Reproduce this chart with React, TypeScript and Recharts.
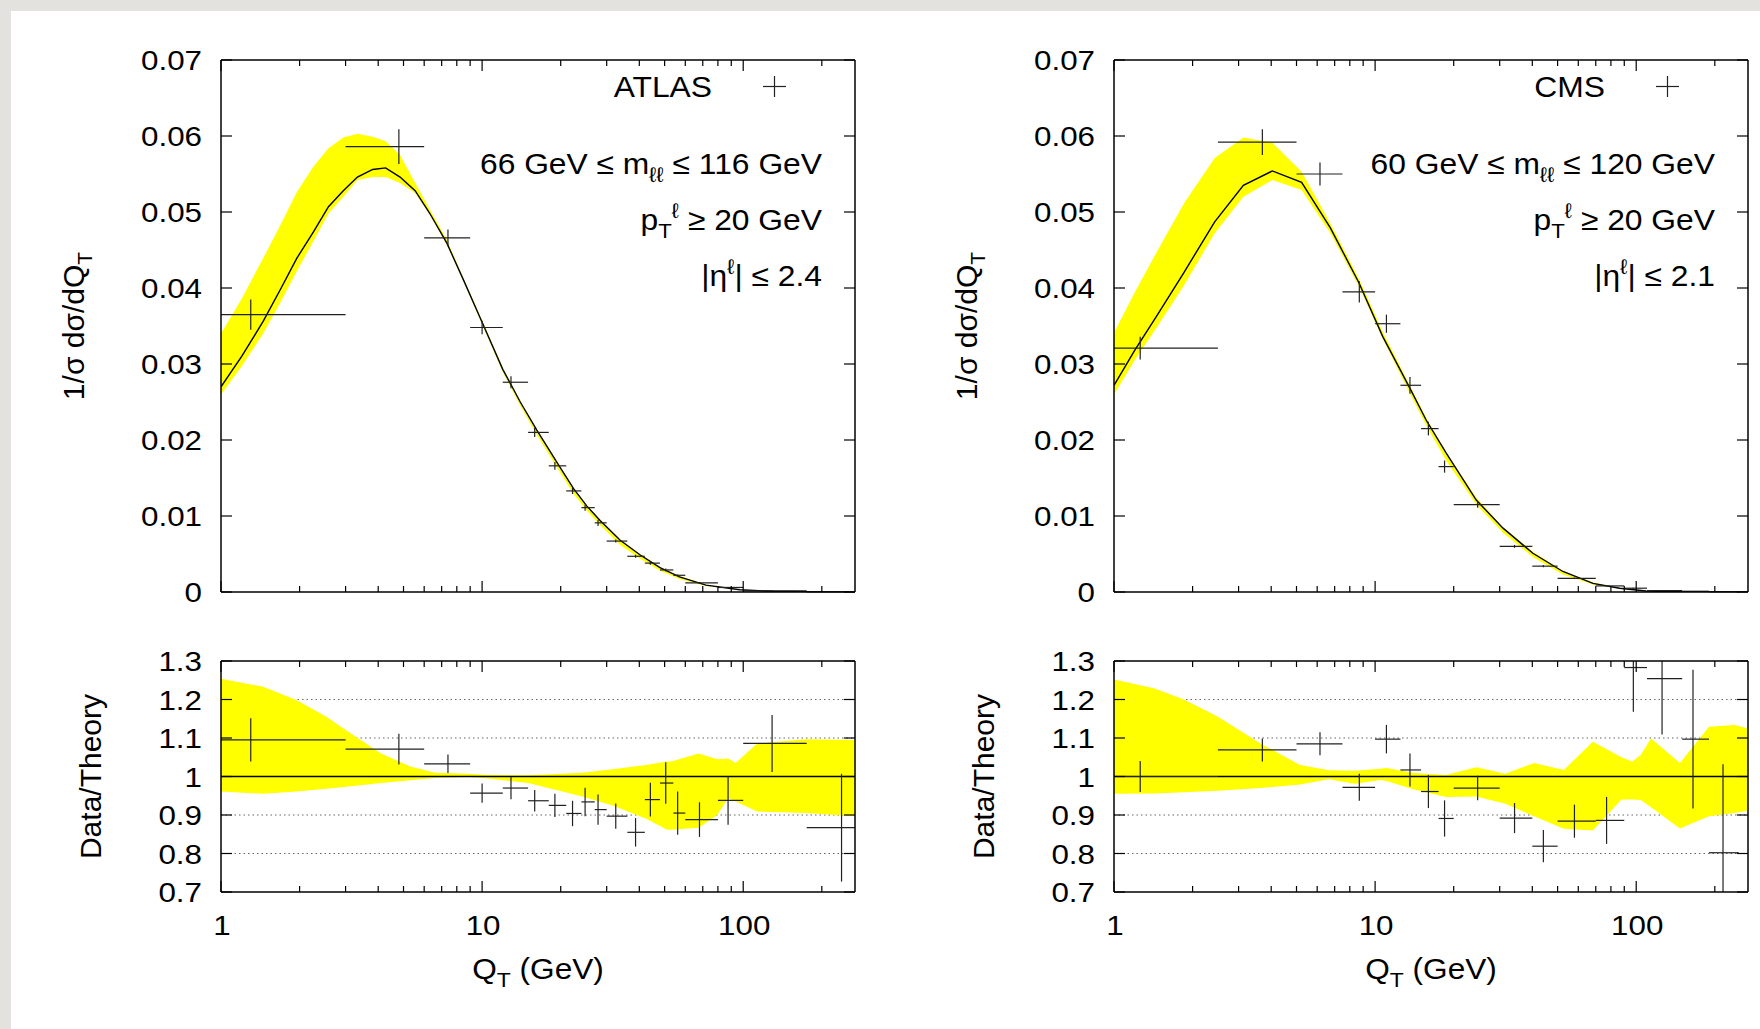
import { ComposedChart, XAxis, YAxis, Line, Area, Scatter, ErrorBar, CartesianGrid, ReferenceLine } from 'recharts'

const FONT = '"Liberation Sans", Arial, Helvetica, sans-serif'
const YELLOW = '#ffff00'
const INK = '#000'
const CROSS = '#222'

// axes
const X_MIN = 1
const X_MAX = 268
const X_TICKS = [1, 2, 3, 4, 5, 6, 7, 8, 9, 10, 20, 30, 40, 50, 60, 70, 80, 90, 100, 200]
const X_MAJOR = [1, 10, 100]
const DIST_DOMAIN = [0, 0.07]
const DIST_TICKS = [0, 0.01, 0.02, 0.03, 0.04, 0.05, 0.06, 0.07]
const RATIO_DOMAIN = [0.7, 1.3]
const RATIO_TICKS = [0.7, 0.8, 0.9, 1, 1.1, 1.2, 1.3]
const RATIO_GRID = [0.8, 0.9, 1.1, 1.2]

// ---- ATLAS data (bins, 1/σ dσ/dQT, Data/Theory) ----
const ATLAS_Q = [1.3, 4.8, 7.4, 10, 12.9, 15.9, 19, 22.2, 24.8, 27.8, 32.5, 38.7, 44.1, 50.5, 56.1, 68, 87.5, 129, 238]
const ATLAS_BIN_LO = [0, 3, 6, 9, 12, 15, 18, 21, 24, 27, 30, 36, 42, 48, 54, 60, 80, 100, 175]
const ATLAS_BIN_HI = [3, 6, 9, 12, 15, 18, 21, 24, 27, 30, 36, 42, 48, 54, 60, 80, 100, 175, 350]
const ATLAS_V = [0.0365, 0.0586, 0.0466, 0.0348, 0.0276, 0.021, 0.0166, 0.0133, 0.0111, 0.0091, 0.0067, 0.0047, 0.0038, 0.0029, 0.0022, 0.0012, 0.0006, 0.00015, 0.00002]
const ATLAS_VERR = [0.002, 0.0023, 0.0011, 0.0009, 0.0008, 0.0006, 0.0005, 0.0004, 0.0004, 0.0004, 0.0002, 0.0002, 0.0002, 0.0002, 0.0001, 0.0001, 0.00004, 0.00001, 0.000003]
const ATLAS_R = [1.095, 1.071, 1.033, 0.957, 0.97, 0.937, 0.925, 0.904, 0.934, 0.914, 0.897, 0.855, 0.94, 0.983, 0.905, 0.888, 0.938, 1.086, 0.867]
const ATLAS_RERR = [0.056, 0.04, 0.024, 0.025, 0.029, 0.028, 0.03, 0.033, 0.037, 0.039, 0.033, 0.037, 0.044, 0.054, 0.056, 0.045, 0.063, 0.074, 0.14]

// theory curve + uncertainty band
const ATLAS_TH_Q = [1, 1.2, 1.45, 1.7, 1.95, 2.26, 2.58, 2.94, 3.33, 3.81, 4.27, 4.85, 5.54, 6.31, 7.33, 8.5, 10, 12, 14, 16.2, 19.4, 22.4, 25.2, 28.3, 33.8, 40.2, 48, 57, 72, 97, 130, 200, 268]
const ATLAS_TH_V = [0.027, 0.031, 0.0356, 0.04, 0.0439, 0.0474, 0.0507, 0.0528, 0.0546, 0.0556, 0.0558, 0.0546, 0.0528, 0.0498, 0.0459, 0.041, 0.0355, 0.0293, 0.025, 0.0213, 0.017, 0.0136, 0.0113, 0.0094, 0.0068, 0.0049, 0.0032, 0.002, 0.0009, 0.0003, 0.0001, 0.00002, 0]
const ATLAS_BAND_LO = [0.026, 0.0297, 0.034, 0.0383, 0.0422, 0.0462, 0.0498, 0.052, 0.0542, 0.0546, 0.0546, 0.0538, 0.0525, 0.0496, 0.0457, 0.0408, 0.0352, 0.0289, 0.0245, 0.0207, 0.0163, 0.0129, 0.0107, 0.0088, 0.0062, 0.0044, 0.0028, 0.0017, 0.0008, 0.00028, 0.00009, 0.00002, 0]
const ATLAS_BAND_HI = [0.034, 0.0386, 0.0439, 0.0485, 0.0526, 0.056, 0.0584, 0.0598, 0.0603, 0.0599, 0.0593, 0.0575, 0.0538, 0.0503, 0.0463, 0.0412, 0.0357, 0.0294, 0.0251, 0.0214, 0.0171, 0.0137, 0.0114, 0.0095, 0.0069, 0.005, 0.0033, 0.0021, 0.00095, 0.00031, 0.00011, 0.00002, 0]
const ATLAS_RB_Q = [1, 1.45, 1.95, 2.53, 3.28, 4.1, 5.3, 6.6, 8.9, 10.5, 15, 24.2, 31.6, 42.5, 51.1, 53, 67.5, 79.5, 87.6, 93.5, 113, 174, 268]
const ATLAS_RB_LO = [0.961, 0.955, 0.961, 0.968, 0.976, 0.983, 0.99, 0.996, 0.999, 0.995, 0.983, 0.948, 0.925, 0.89, 0.862, 0.862, 0.867, 0.9, 0.944, 0.935, 0.909, 0.905, 0.897]
const ATLAS_RB_HI = [1.254, 1.233, 1.198, 1.155, 1.103, 1.06, 1.026, 1.01, 1.007, 1.004, 1.003, 1.01, 1.019, 1.03, 1.039, 1.039, 1.06, 1.045, 1.047, 1.035, 1.086, 1.097, 1.095]

// ---- CMS ----
const CMS_Q = [1.26, 3.7, 6.15, 8.7, 11.05, 13.6, 16, 18.45, 24.7, 34.2, 44.1, 58, 77, 97.5, 125.6, 165, 215]
const CMS_BIN_LO = [0, 2.5, 5, 7.5, 10, 12.5, 15, 17.5, 20, 30, 40, 50, 70, 90, 110, 150, 190]
const CMS_BIN_HI = [2.5, 5, 7.5, 10, 12.5, 15, 17.5, 20, 30, 40, 50, 70, 90, 110, 150, 190, 247]
const CMS_V = [0.0321, 0.0592, 0.055, 0.0395, 0.0353, 0.0272, 0.0215, 0.0165, 0.0115, 0.006, 0.0034, 0.0018, 0.0008, 0.0005, 0.0002, 0.0001, 0.00003]
const CMS_VERR = [0.0015, 0.0017, 0.0015, 0.0014, 0.0012, 0.0011, 0.0009, 0.0008, 0.0004, 0.0002, 0.00015, 0.0001, 0.00005, 0.00006, 0.00003, 0.00002, 0.00001]
const CMS_R = [1.0, 1.069, 1.085, 0.972, 1.097, 1.017, 0.961, 0.891, 0.97, 0.892, 0.819, 0.884, 0.886, 1.283, 1.254, 1.097, 0.802]
const CMS_RERR = [0.04, 0.03, 0.03, 0.035, 0.037, 0.043, 0.043, 0.047, 0.032, 0.039, 0.042, 0.043, 0.061, 0.115, 0.145, 0.18, 0.23]

const CMS_TH_Q = [1, 1.2, 1.45, 1.85, 2.43, 3.13, 4.04, 5.23, 6.74, 8.67, 10.7, 13.6, 15.7, 18.7, 24.4, 30.9, 40.2, 52.4, 68.3, 86.4, 109, 150, 268]
const CMS_TH_V = [0.0272, 0.0318, 0.0362, 0.042, 0.0487, 0.0535, 0.0554, 0.0539, 0.0479, 0.0407, 0.0336, 0.0268, 0.0226, 0.0183, 0.0121, 0.0084, 0.0051, 0.0027, 0.00114, 0.0005, 0.00013, 0.00003, 0]
const CMS_BAND_LO = [0.026, 0.0305, 0.0347, 0.0403, 0.0472, 0.052, 0.0542, 0.0529, 0.0472, 0.0402, 0.0333, 0.0261, 0.0219, 0.0173, 0.0115, 0.0078, 0.0046, 0.0023, 0.00098, 0.00047, 0.00012, 0.00003, 0]
const CMS_BAND_HI = [0.0341, 0.0394, 0.0446, 0.0511, 0.0571, 0.0598, 0.0591, 0.0553, 0.0485, 0.0412, 0.0342, 0.0271, 0.0229, 0.0184, 0.0124, 0.0085, 0.0053, 0.00275, 0.00124, 0.00052, 0.00014, 0.00003, 0]
const CMS_RB_Q = [1, 1.42, 1.85, 2.5, 3.64, 5.15, 6.65, 8.34, 10.45, 11.06, 14.1, 18.7, 24.4, 31.5, 40.6, 52.8, 68.2, 87.8, 96.5, 104, 114, 147, 190, 238, 268]
const CMS_RB_LO = [0.955, 0.956, 0.959, 0.963, 0.97, 0.979, 0.993, 0.981, 0.991, 0.988, 0.966, 0.947, 0.948, 0.929, 0.897, 0.864, 0.86, 0.94, 0.94, 0.939, 0.92, 0.865, 0.897, 0.905, 0.912]
const CMS_RB_HI = [1.252, 1.229, 1.2, 1.155, 1.086, 1.03, 1.016, 1.015, 1.02, 1.022, 1.009, 1.004, 1.024, 1.007, 1.035, 1.017, 1.09, 1.05, 1.039, 1.056, 1.099, 1.035, 1.129, 1.134, 1.125]

// table builders: error bars are cut at the frame, like gnuplot does
const points = (q: number[], lo: number[], hi: number[], v: number[], err: number[], dom: number[]) =>
  q.map((x, i) => ({
    q: x,
    v: v[i],
    ex: [x - Math.max(lo[i], X_MIN), Math.min(hi[i], X_MAX) - x],
    ey: [v[i] - Math.max(v[i] - err[i], dom[0]), Math.min(v[i] + err[i], dom[1]) - v[i]],
  }))
const curve = (q: number[], v: number[]) => q.map((x, i) => ({ q: x, v: v[i] }))
const band = (q: number[], lo: number[], hi: number[]) => q.map((x, i) => ({ q: x, band: [lo[i], hi[i]] }))

// the original's lettering is a bit wider than Liberation Sans
const WIDE = 1.12

// ticks point inward, gnuplot style
function XTick({ x, y, payload, top, labels }: any) {
  const major = X_MAJOR.includes(payload.value)
  const len = major ? 11 : 6
  const dir = top ? 1 : -1
  return (
    <g>
      <line x1={x} x2={x} y1={y} y2={y + dir * len} stroke={INK} strokeWidth={1.2} />
      {labels && major && (
        <text transform={`translate(${x + 1} ${y + 43}) scale(${WIDE} 1)`} textAnchor="middle" fontSize={28} fontFamily={FONT} fill={INK}>
          {payload.value}
        </text>
      )}
    </g>
  )
}

function YTick({ x, y, payload, right }: any) {
  const dir = right ? -1 : 1
  return (
    <g>
      <line x1={x} x2={x + dir * 11} y1={y} y2={y} stroke={INK} strokeWidth={1.2} />
      {!right && (
        <text transform={`translate(${x - 19} ${y + 10}) scale(${WIDE} 1)`} textAnchor="end" fontSize={28} fontFamily={FONT} fill={INK}>
          {String(payload.value)}
        </text>
      )}
    </g>
  )
}

function YTitle({ viewBox, ratio }: any) {
  if (!viewBox) return null
  const x = viewBox.x + viewBox.width - (ratio ? 120 : 137)
  const y = viewBox.y + viewBox.height / 2
  return (
    <text x={x} y={y} transform={`rotate(-90 ${x} ${y})`} textAnchor="middle" fontSize={30} fontFamily={FONT} fill={INK}>
      {ratio ? 'Data/Theory' : <>1/σ dσ/dQ<tspan dy={8} fontSize={21}>T</tspan></>}
    </text>
  )
}

function XTitle({ viewBox }: any) {
  if (!viewBox) return null
  const x = viewBox.x + viewBox.width / 2
  const y = viewBox.y + 87
  return (
    <text transform={`translate(${x} ${y}) scale(1.09 1)`} textAnchor="middle" fontSize={29} fontFamily={FONT} fill={INK}>
      Q<tspan dy={8} fontSize={21}>T</tspan><tspan dy={-8}> (GeV)</tspan>
    </text>
  )
}

function Panel({ left, top, width, height, margin, ratio, bandData, theory, data }: any) {
  const frame = { stroke: INK, strokeWidth: 1.5 }
  const dom = ratio ? RATIO_DOMAIN : DIST_DOMAIN
  const yt = ratio ? RATIO_TICKS : DIST_TICKS
  return (
    <div style={{ position: 'absolute', left, top }}>
      <ComposedChart width={width} height={height} margin={margin}>
        {ratio && <CartesianGrid vertical={false} horizontalValues={RATIO_GRID} stroke="#666" strokeDasharray="1.5 3" />}
        <XAxis dataKey="q" type="number" scale="log" domain={[X_MIN, X_MAX]} allowDataOverflow ticks={X_TICKS} interval={0}
          height={1} tickSize={0} tickMargin={0} tickLine={false} axisLine={frame}
          tick={<XTick labels={ratio} />} label={ratio ? <XTitle /> : undefined} />
        <XAxis xAxisId="top" orientation="top" dataKey="q" type="number" scale="log" domain={[X_MIN, X_MAX]} allowDataOverflow
          ticks={X_TICKS} interval={0} height={1} tickSize={0} tickMargin={0} tickLine={false} axisLine={frame} tick={<XTick top />} />
        <YAxis type="number" domain={dom} allowDataOverflow ticks={yt}
          interval={0} width={1} tickSize={0} tickMargin={0} tickLine={false} axisLine={frame} tick={<YTick />}
          label={<YTitle ratio={ratio} />} />
        <YAxis yAxisId="right" orientation="right" type="number" domain={dom} allowDataOverflow
          ticks={yt} interval={0} width={1} tickSize={0} tickMargin={0} tickLine={false}
          axisLine={frame} tick={<YTick right />} />
        <Area data={bandData} dataKey="band" type="linear" fill={YELLOW} fillOpacity={1} stroke="none" isAnimationActive={false} />
        {theory && <Line data={theory} dataKey="v" type="linear" stroke={INK} strokeWidth={1.4} dot={false} isAnimationActive={false} />}
        {ratio && <ReferenceLine y={1} stroke={INK} strokeWidth={1.5} />}
        <Scatter data={data} dataKey="v" shape={() => <g />} isAnimationActive={false}>
          <ErrorBar dataKey="ex" direction="x" width={0} stroke={CROSS} strokeWidth={1.2} />
          <ErrorBar dataKey="ey" direction="y" width={0} stroke={CROSS} strokeWidth={1.2} />
        </Scatter>
      </ComposedChart>
    </div>
  )
}

// horizontal text is a little wider in the original
function HText({ x, y, children, size = 30 }: any) {
  return (
    <text transform={`translate(${x} ${y}) scale(1.06 1)`} fontSize={size} textAnchor="end" fontFamily={FONT} fill={INK}>
      {children}
    </text>
  )
}

function Cuts({ dx, name, mLo, mHi, eta }: any) {
  const right = 822 + dx
  return (
    <g>
      <HText x={712 + dx} y={97}>{name}</HText>
      <line x1={763 + dx} x2={786 + dx} y1={86.5} y2={86.5} stroke={CROSS} strokeWidth={1.2} />
      <line x1={774.5 + dx} x2={774.5 + dx} y1={76} y2={97} stroke={CROSS} strokeWidth={1.2} />
      <HText x={right} y={174}>{`${mLo} GeV ≤ m`}<tspan dy={8} fontSize={21}>ℓℓ</tspan><tspan dy={-8}>{` ≤ ${mHi} GeV`}</tspan></HText>
      <HText x={right} y={230}>p<tspan dy={8} fontSize={21}>T</tspan><tspan dy={-20} fontSize={21}>ℓ</tspan><tspan dy={12}>{' ≥ 20 GeV'}</tspan></HText>
      <HText x={right} y={286}>|η<tspan dy={-12} fontSize={21}>ℓ</tspan><tspan dy={12}>{`| ≤ ${eta}`}</tspan></HText>
    </g>
  )
}

export default function App() {
  // plot frames: x 221..855 / 1114..1748, y 60..592 and 661..892
  const topM = { top: 59, bottom: 17, left: 220 }
  const botM = { top: 60, bottom: 136, left: 220 }
  return (
    <div style={{ position: 'absolute', left: 0, top: 0, width: 1760, height: 1029, background: '#e4e2de', overflow: 'hidden', fontFamily: FONT }}>
      <div style={{ position: 'absolute', left: 11, top: 11, right: 0, bottom: 0, background: '#fff' }} />
      <Panel left={0} top={0} width={880} height={610} margin={{ ...topM, right: 24 }}
        bandData={band(ATLAS_TH_Q, ATLAS_BAND_LO, ATLAS_BAND_HI)} theory={curve(ATLAS_TH_Q, ATLAS_TH_V)}
        data={points(ATLAS_Q, ATLAS_BIN_LO, ATLAS_BIN_HI, ATLAS_V, ATLAS_VERR, DIST_DOMAIN)} />
      <Panel left={0} top={600} width={880} height={429} margin={{ ...botM, right: 24 }} ratio
        bandData={band(ATLAS_RB_Q, ATLAS_RB_LO, ATLAS_RB_HI)}
        data={points(ATLAS_Q, ATLAS_BIN_LO, ATLAS_BIN_HI, ATLAS_R, ATLAS_RERR, RATIO_DOMAIN)} />
      <Panel left={893} top={0} width={867} height={610} margin={{ ...topM, right: 11 }}
        bandData={band(CMS_TH_Q, CMS_BAND_LO, CMS_BAND_HI)} theory={curve(CMS_TH_Q, CMS_TH_V)}
        data={points(CMS_Q, CMS_BIN_LO, CMS_BIN_HI, CMS_V, CMS_VERR, DIST_DOMAIN)} />
      <Panel left={893} top={600} width={867} height={429} margin={{ ...botM, right: 11 }} ratio
        bandData={band(CMS_RB_Q, CMS_RB_LO, CMS_RB_HI)}
        data={points(CMS_Q, CMS_BIN_LO, CMS_BIN_HI, CMS_R, CMS_RERR, RATIO_DOMAIN)} />
      <svg width={1760} height={400} style={{ position: 'absolute', left: 0, top: 0, pointerEvents: 'none' }}>
        <Cuts dx={0} name="ATLAS" mLo={66} mHi={116} eta="2.4" />
        <Cuts dx={893} name="CMS" mLo={60} mHi={120} eta="2.1" />
      </svg>
    </div>
  )
}
